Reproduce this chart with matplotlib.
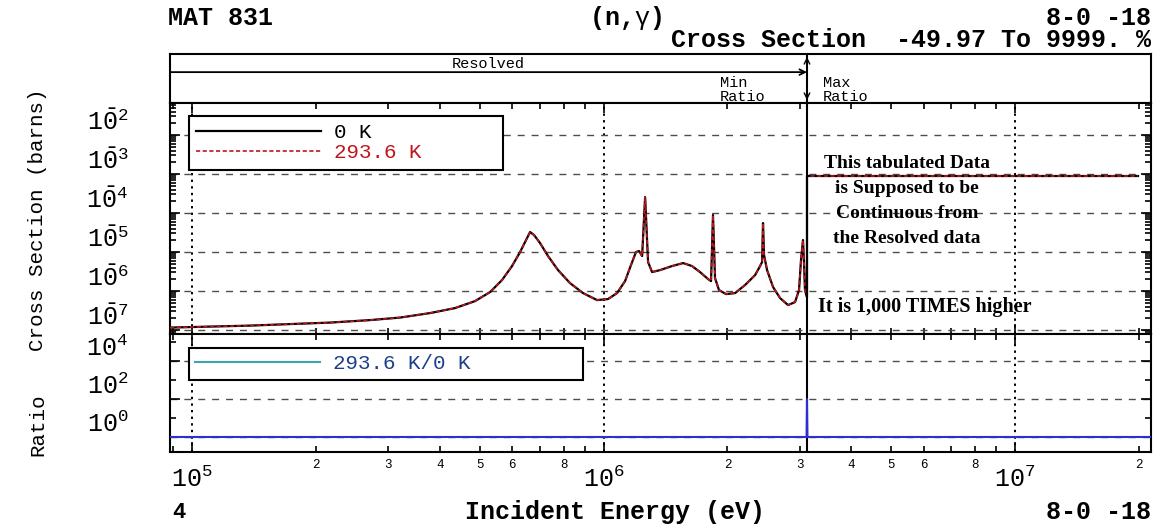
import matplotlib
matplotlib.use('Agg')
import matplotlib.pyplot as plt
import matplotlib.ticker as mticker
import numpy as np

plt.rcParams['font.family'] = ['Liberation Mono', 'DejaVu Sans Mono']
plt.rcParams['mathtext.fontset'] = 'custom'
plt.rcParams['mathtext.rm'] = 'Liberation Mono'
plt.rcParams['mathtext.it'] = 'Liberation Mono'
plt.rcParams['mathtext.bf'] = 'Liberation Mono:bold'

# incident energy (eV) and capture cross section (barns)
energy = [8.84e4, 1.106e5, 1.383e5, 1.73e5, 2.164e5, 2.707e5, 3.203e5, 3.788e5, 4.357e5,
          4.873e5, 5.3e5, 5.666e5, 5.993e5, 6.268e5, 6.482e5, 6.629e5, 6.779e5, 7.01e5,
          7.331e5, 7.753e5, 8.29e5, 8.916e5, 9.643e5, 1.0254e6, 1.0784e6, 1.128e6, 1.166e6,
          1.199e6, 1.22e6, 1.241e6, 1.262e6, 1.283e6, 1.312e6, 1.372e6, 1.467e6, 1.561e6,
          1.641e6, 1.716e6, 1.795e6, 1.825e6, 1.845e6, 1.866e6, 1.908e6, 1.985e6, 2.088e6,
          2.208e6, 2.335e6, 2.401e6, 2.428e6, 2.441e6, 2.455e6, 2.497e6, 2.582e6, 2.685e6,
          2.808e6, 2.92e6, 2.986e6, 3.019e6, 3.053e6, 3.07e6, 3.087e6, 3.122e6, 3.122e6, 1.99e7]
xs_0k = [1.159e-7, 1.23e-7, 1.303e-7, 1.426e-7, 1.557e-7, 1.804e-7, 2.094e-7, 2.73e-7, 3.665e-7,
         5.541e-7, 9.42e-7, 1.914e-6, 4.375e-6, 1e-5, 2.032e-5, 3.26e-5, 2.73e-5, 1.7e-5,
         7.89e-6, 3.45e-6, 1.6e-6, 8.89e-7, 5.88e-7, 6.24e-7, 8.89e-7, 1.8e-6, 4.64e-6,
         1e-5, 1.06e-5, 7.89e-6, 2.57e-4, 5.54e-6, 3.07e-6, 3.45e-6, 4.375e-6, 5.22e-6,
         4.375e-6, 3.07e-6, 2.03e-6, 1.8e-6, 8.89e-5, 2.15e-6, 1.06e-6, 8.37e-7, 8.89e-7,
         1.43e-6, 2.57e-6, 4.375e-6, 5.54e-6, 5.54e-5, 8.37e-6, 3.45e-6, 1.27e-6, 6.62e-7,
         4.38e-7, 5.22e-7, 1.06e-6, 6.24e-6, 2.03e-5, 5.54e-6, 1.06e-6, 7.02e-7, 8.89e-4, 8.89e-4]
xs_293k = [1.159e-7, 1.23e-7, 1.303e-7, 1.426e-7, 1.557e-7, 1.804e-7, 2.094e-7, 2.73e-7, 3.665e-7,
           5.541e-7, 9.42e-7, 1.914e-6, 4.375e-6, 1e-5, 2.032e-5, 3.26e-5, 2.73e-5, 1.7e-5,
           7.89e-6, 3.45e-6, 1.6e-6, 8.89e-7, 5.88e-7, 6.24e-7, 8.89e-7, 1.8e-6, 4.64e-6,
           1e-5, 1.06e-5, 7.89e-6, 2.57e-4, 5.54e-6, 3.07e-6, 3.45e-6, 4.375e-6, 5.22e-6,
           4.375e-6, 3.07e-6, 2.03e-6, 1.8e-6, 8.89e-5, 2.15e-6, 1.06e-6, 8.37e-7, 8.89e-7,
           1.43e-6, 2.57e-6, 4.375e-6, 5.54e-6, 5.54e-5, 8.37e-6, 3.45e-6, 1.27e-6, 6.62e-7,
           4.38e-7, 5.22e-7, 1.06e-6, 6.24e-6, 2.03e-5, 5.54e-6, 1.06e-6, 7.02e-7, 8.89e-4, 8.89e-4]

# 293.6 K / 0 K ratio
ratio_energy = [8.84e4, 3.115e6, 3.122e6, 3.13e6, 2.14e7]
ratio = [1, 1, 100, 1, 1]

boundary = 3.122e6          # end of resolved region
e_min, e_max = 8.84e4, 2.14e7
xs_ticks = [1e-2, 1e-3, 1e-4, 1e-5, 1e-6, 1e-7]
ratio_ticks = [1e0, 1e2, 1e4]
energy_ticks = [1e5, 1e6, 1e7]

RED = '#c0141c'
BLUE = '#2f2fd0'

W, H = 1169, 525
fig = plt.figure(figsize=(W / 100, H / 100), dpi=100)


def box(l, t, r, b):
    return [l / W, 1 - b / H, (r - l) / W, (b - t) / H]


ax_band = fig.add_axes(box(170, 54, 1151, 103))
ax = fig.add_axes(box(170, 103, 1151, 334))
axr = fig.add_axes(box(170, 334, 1151, 452))

for a in (ax_band, ax, axr):
    a.set_xscale('log')
    a.set_xlim(e_min, e_max)
    for s in a.spines.values():
        s.set_linewidth(1.5)
    a.axvline(boundary, color='k', lw=1.5, zorder=4)

# band above the plot
ax_band.set_ylim(0, 1)
ax_band.set_xticks([])
ax_band.set_yticks([])
ax_band.xaxis.set_minor_locator(mticker.NullLocator())
ax_band.annotate('', xy=(boundary, 0.63), xytext=(e_min, 0.63),
                 arrowprops=dict(arrowstyle='->', lw=1.3, color='k', shrinkA=0, shrinkB=0))
ax_band.annotate('', xy=(boundary, 0.94), xytext=(boundary, 0.06),
                 arrowprops=dict(arrowstyle='<->', lw=1.0, color='k', shrinkA=0, shrinkB=0))
ax_band.text(np.sqrt(e_min * boundary), 0.8, 'Resolved', ha='center', va='center', fontsize=11)
ax_band.text(0.5608, 0.27, 'Min\nRatio', transform=ax_band.transAxes, ha='left', va='center',
             fontsize=11, linespacing=1.0)
ax_band.text(0.6656, 0.27, 'Max\nRatio', transform=ax_band.transAxes, ha='left', va='center',
             fontsize=11, linespacing=1.0)

# main cross-section panel
ax.set_yscale('log')
ax.set_ylim(10 ** -7.10, 10 ** -1.18)
h0, = ax.plot(energy, xs_0k, color='k', lw=1.6, label='0 K', zorder=3)
h1, = ax.plot(energy, xs_293k, color=RED, lw=1.2, ls=(0, (2.5, 1.5)), label='293.6 K', zorder=3)

# ratio panel
axr.set_yscale('log')
axr.set_ylim(10 ** -0.79, 10 ** 5.42)
hr, = axr.plot(ratio_energy, ratio, color=BLUE, lw=1.5, label='293.6 K/0 K', zorder=5)

for a in (ax, axr):
    a.set_xticks(energy_ticks)
    a.xaxis.set_minor_locator(mticker.LogLocator(base=10, subs=np.arange(2, 10)))
    a.tick_params(which='both', direction='in', top=True, right=True, width=1.2)
    a.tick_params(which='major', length=7)
    a.tick_params(which='minor', length=4)
    a.grid(which='major', axis='y', ls=(0, (5, 5)), color='0.3', lw=1.0)
    a.grid(which='major', axis='x', ls=(0, (1.2, 2.2)), color='k', lw=1.4)
    a.set_axisbelow(True)

ax.set_yticks(xs_ticks)
ax.set_yticklabels([r'$1\bar{0}^{%d}$' % int(-np.log10(v) + 0.5) for v in xs_ticks])
ax.yaxis.set_minor_locator(mticker.LogLocator(base=10, subs=np.arange(2, 10), numticks=30))
axr.set_yticks(ratio_ticks)
axr.set_yticklabels([r'$10^{%d}$' % int(np.log10(v) + 0.5) for v in ratio_ticks])
axr.yaxis.set_minor_locator(mticker.FixedLocator([1e1, 1e3, 1e5]))
axr.yaxis.set_minor_formatter(mticker.NullFormatter())
for a in (ax, axr):
    a.tick_params(axis='y', which='major', labelsize=18, pad=30)
    plt.setp(a.get_yticklabels(), va='bottom')

ax.tick_params(axis='x', which='both', labelbottom=False)


def minor_fmt(v, pos):
    m = int(round(v / 10 ** np.floor(np.log10(v) + 1e-9)))
    return str(m) if m in (2, 3, 4, 5, 6, 8) else ''


axr.xaxis.set_major_formatter(mticker.FuncFormatter(
    lambda v, p: r'$10^{%d}$' % int(round(np.log10(v)))))
axr.xaxis.set_minor_formatter(mticker.FuncFormatter(minor_fmt))
axr.tick_params(axis='x', which='major', labelsize=18, pad=10)
axr.tick_params(axis='x', which='minor', labelsize=9, pad=5)

# legends
leg = ax.legend(handles=[h0, h1], loc='upper left', mode='expand',
                bbox_to_anchor=(0.0194, 0.723, 0.320, 0.221), borderaxespad=0,
                fancybox=False, edgecolor='k', framealpha=1, fontsize=15,
                handlelength=6.0, handletextpad=0.6, labelspacing=0.05, borderpad=0.35)
leg.get_frame().set_linewidth(1.5)
leg.get_texts()[1].set_color(RED)
leg.set_zorder(6)

legr = axr.legend(handles=[hr], loc='upper left', mode='expand',
                  bbox_to_anchor=(0.0194, 0.627, 0.4016, 0.254), borderaxespad=0,
                  fancybox=False, edgecolor='k', framealpha=1, fontsize=15,
                  handlelength=6.0, handletextpad=0.6, borderpad=0.3)
legr.get_frame().set_linewidth(1.5)
legr.get_texts()[0].set_color('#1c3f8c')
legr.legend_handles[0].set_color('#3aa5b0')
legr.set_zorder(6)

# notes in the plot
ax.text(0.751, 0.576, 'This tabulated Data\nis Supposed to be\nContinuous from\nthe Resolved data',
        transform=ax.transAxes, ha='center', va='center', fontsize=14, linespacing=1.62,
        family='Liberation Serif', weight='bold', zorder=5)
ax.text(0.6606, 0.117, 'It is 1,000 TIMES higher', transform=ax.transAxes, ha='left',
        va='center', fontsize=14.5, family='Liberation Serif', weight='bold', zorder=5)

# header and footer text
fig.text(168 / W, 1 - 18 / H, 'MAT 831', ha='left', va='center', fontsize=18, weight='bold')
fig.text(625 / W, 1 - 18 / H, r'(n,$\gamma$)', ha='center', va='center', fontsize=18, weight='bold')
fig.text(1151 / W, 1 - 18 / H, '8-0 -18', ha='right', va='center', fontsize=18, weight='bold')
fig.text(1151 / W, 1 - 40 / H, 'Cross Section  -49.97 To 9999. %', ha='right', va='center',
         fontsize=18, weight='bold')
fig.text(172 / W, 1 - 512 / H, '4', ha='left', va='center', fontsize=16, weight='bold')
fig.text(615 / W, 1 - 512 / H, 'Incident Energy (eV)', ha='center', va='center', fontsize=18, weight='bold')
fig.text(1151 / W, 1 - 512 / H, '8-0 -18', ha='right', va='center', fontsize=18, weight='bold')
fig.text(38 / W, 1 - 220 / H, 'Cross Section (barns)', rotation=90, ha='center', va='center', fontsize=15)
fig.text(38 / W, 1 - 425 / H, 'Ratio', rotation=90, ha='center', va='center', fontsize=15)

fig.savefig('out.png', dpi=100)
